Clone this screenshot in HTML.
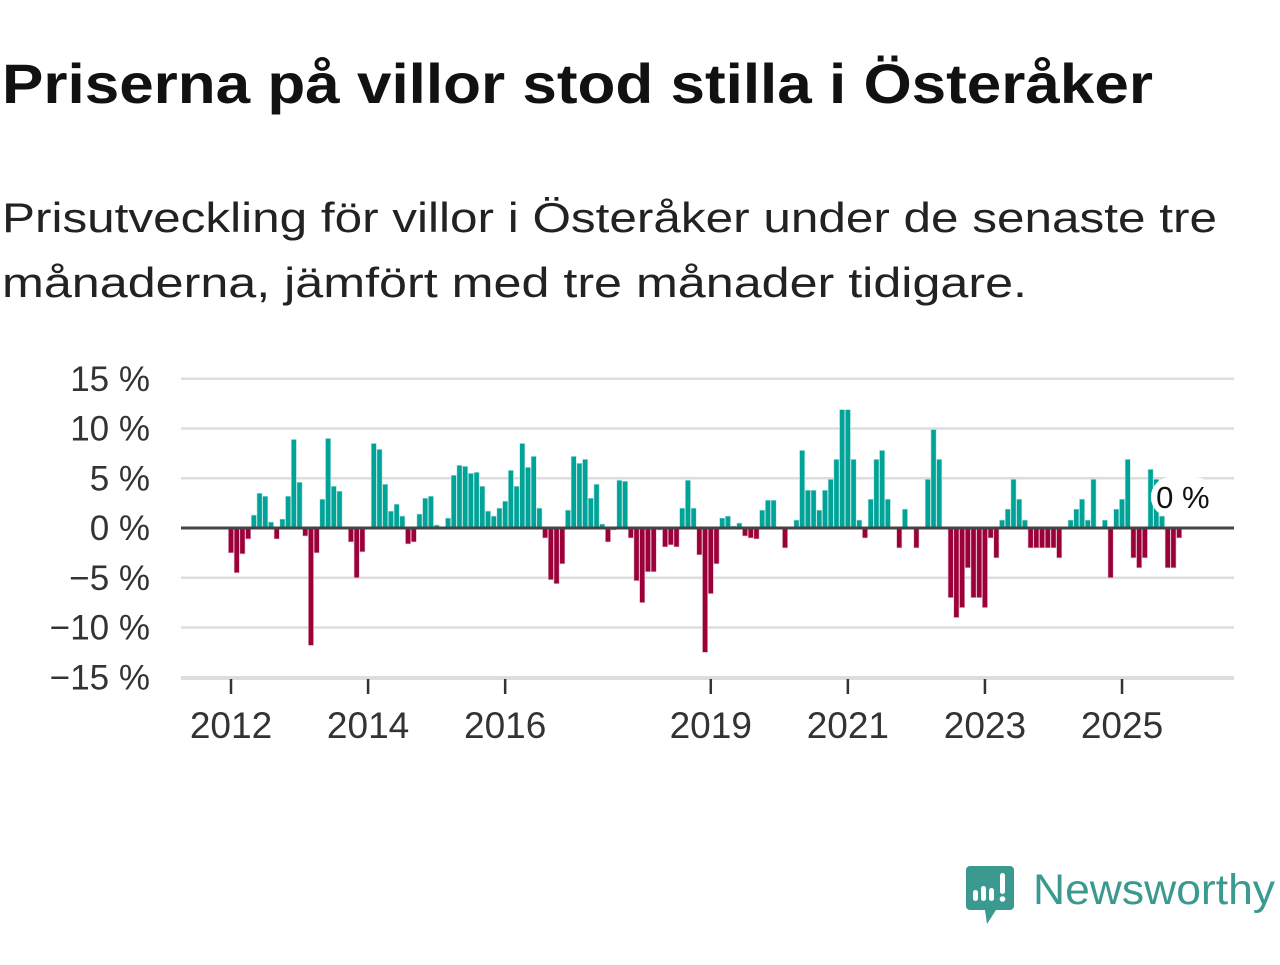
<!DOCTYPE html>
<html><head><meta charset="utf-8"><style>
body{margin:0;background:#fff;width:1280px;height:960px;overflow:hidden;font-family:"Liberation Sans",sans-serif}
</style></head><body>
<svg width="1280" height="960" xmlns="http://www.w3.org/2000/svg">
<text x="2" y="103" font-size="56" font-weight="bold" fill="#111" textLength="1151" lengthAdjust="spacingAndGlyphs">Priserna på villor stod stilla i Österåker</text>
<text x="2" y="232" font-size="42" fill="#222" textLength="1215" lengthAdjust="spacingAndGlyphs">Prisutveckling för villor i Österåker under de senaste tre</text>
<text x="2" y="297" font-size="42" fill="#222" textLength="1025" lengthAdjust="spacingAndGlyphs">månaderna, jämfört med tre månader tidigare.</text>
<g id="grid"></g>
<g id="bars"></g>
<g id="axes"></g>
<g>
<path d="M970 866 h40 a4 4 0 0 1 4 4 v36 a4 4 0 0 1 -4 4 h-14 l-9 14 l-2 -14 h-15 a4 4 0 0 1 -4 -4 v-36 a4 4 0 0 1 4 -4z" fill="#3a9a8f"/>
<rect x="973" y="890" width="5" height="11" rx="2.5" fill="#fff"/>
<rect x="981" y="886" width="5" height="15" rx="2.5" fill="#fff"/>
<rect x="989" y="888" width="5" height="13" rx="2.5" fill="#fff"/>
<rect x="1000" y="873" width="5" height="21" rx="2.5" fill="#fff"/>
<circle cx="1002.5" cy="899" r="2.8" fill="#fff"/>
<text x="1033" y="904" font-size="43" fill="#3a9a8f" textLength="242" lengthAdjust="spacingAndGlyphs">Newsworthy</text>
</g>
</svg>
<script>
const values=[-2.5,-4.5,-2.6,-1.1,1.3,3.5,3.2,0.6,-1.1,0.9,3.2,8.9,4.6,-0.8,-11.8,-2.5,2.9,9.0,4.2,3.7,0,-1.4,-5.0,-2.4,0,8.5,7.9,4.4,1.7,2.4,1.2,-1.6,-1.4,1.4,3.0,3.2,0.3,0,1.0,5.3,6.3,6.2,5.5,5.6,4.2,1.7,1.2,2.0,2.7,5.8,4.2,8.5,6.1,7.2,2.0,-1.0,-5.2,-5.6,-3.6,1.8,7.2,6.5,6.9,3.0,4.4,0.4,-1.4,-0.2,4.8,4.7,-1.0,-5.3,-7.5,-4.4,-4.4,-0.2,-1.9,-1.7,-1.9,2.0,4.8,2.0,-2.7,-12.5,-6.6,-3.6,1.0,1.2,0.2,0.5,-0.8,-1.0,-1.1,1.8,2.8,2.8,0,-2.0,0,0.8,7.8,3.8,3.8,1.8,3.8,4.9,6.9,11.9,11.9,6.9,0.8,-1.0,2.9,6.9,7.8,2.9,0,-2.0,1.9,0,-2.0,0,4.9,9.9,6.9,0,-7.0,-9.0,-8.0,-4.0,-7.0,-7.0,-8.0,-1.0,-3.0,0.8,1.9,4.9,2.9,0.8,-2.0,-2.0,-2.0,-2.0,-2.0,-3.0,0,0.8,1.9,2.9,0.8,4.9,0,0.8,-5.0,1.9,2.9,6.9,-3.0,-4.0,-3.0,5.9,4.9,1.2,-4.0,-4.0,-1.0,0];
const yTicks=[15,10,5,0,-5,-10,-15];
const yTickLabels=["15 %","10 %","5 %","0 %","−5 %","−10 %","−15 %"];
const xYears=[2012,2014,2016,2019,2021,2023,2025];
const lastLabel="0 %";
const NS="http://www.w3.org/2000/svg";
const y=v=>528-v*9.95;
const x=i=>231+i*(68.54/12);
const xYear=yr=>231+(yr-2012)*68.54;
function mk(t,a,p){const e=document.createElementNS(NS,t);for(const k in a)e.setAttribute(k,a[k]);p.appendChild(e);return e;}
const grid=document.getElementById('grid'),bars=document.getElementById('bars'),axes=document.getElementById('axes');
yTicks.forEach((v,k)=>{
 if(v!==0){const l=mk('line',{x1:181,x2:1234,y1:y(v),y2:y(v),stroke:'#ddd','stroke-width':2.5},grid);
 
 }
 const t=mk('text',{x:150,y:y(v)+12,'font-size':35,fill:'#333','text-anchor':'end'},axes);
 t.textContent=yTickLabels[k];
 
 
});
values.forEach((v,i)=>{
 if(v===0)return;
 const y0=Math.min(y(v),y(0)),h=Math.abs(y(v)-y(0));
 const r=mk('rect',{x:x(i)-2.6,y:y0,width:5.2,height:h,fill:v>0?'#00a398':'#9b0039',stroke:v>0?'#bfe6e3':'#e6bfcc','stroke-width':0.6},bars);
 
 
});
const z=mk('line',{x1:181,x2:1234,y1:y(0),y2:y(0),stroke:'#444','stroke-width':3},axes);


const bl=mk('line',{x1:181,x2:1234,y1:679,y2:679,stroke:'#ddd','stroke-width':2},axes);


xYears.forEach(yr=>{
 const tk=mk('line',{x1:xYear(yr),x2:xYear(yr),y1:679,y2:694,stroke:'#333','stroke-width':2.5},axes);
 
 
 const t=mk('text',{x:xYear(yr),y:738,'font-size':37,fill:'#333','text-anchor':'middle'},axes);
 t.textContent=yr;
 
 
});
const li=values.length-1;
const bg=mk('rect',{x:x(li)-34,y:477,width:64,height:40,rx:20,fill:'#fff'},axes);


const lt=mk('text',{x:x(li)-2,y:508,'font-size':31,fill:'#111','text-anchor':'middle'},axes);
lt.textContent=lastLabel;


</script>
</body></html>
